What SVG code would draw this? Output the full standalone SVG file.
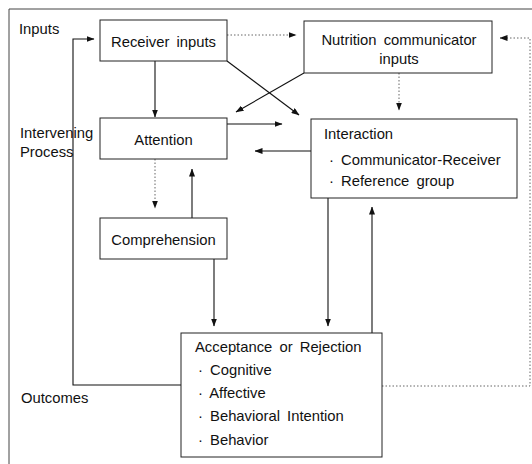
<svg xmlns="http://www.w3.org/2000/svg" width="532" height="464" viewBox="0 0 532 464">
<style>
.box{fill:#fff;stroke:#222;stroke-width:1}
.t{font-family:"Liberation Sans",Arial,sans-serif;font-size:14.8px;fill:#111;word-spacing:3px}
.c{text-anchor:middle}
.ln{fill:none;stroke:#111;stroke-width:1.1}
.dt{fill:none;stroke:#666;stroke-width:1;stroke-dasharray:1.5 2}
.fr{fill:none;stroke:#444;stroke-width:1}
</style>
<defs>
<marker id="ah" markerWidth="8" markerHeight="6" refX="7.5" refY="3" orient="auto" markerUnits="userSpaceOnUse">
<path d="M0,0 L8,3 L0,6 Z" fill="#111"/>
</marker>
</defs>
<rect width="532" height="464" fill="#fff"/>
<g id="frame">
<path class="fr" d="M9,464 V9 H532"/>
</g>
<g id="labels">
<text class="t" x="19" y="34">Inputs</text>
<text class="t" x="20" y="138">Intervening</text>
<text class="t" x="20" y="157">Process</text>
<text class="t" x="21" y="403">Outcomes</text>
</g>
<g id="connectors">
<path class="ln" d="M155,61 V117" marker-end="url(#ah)"/>
<path class="ln" d="M227,61 L299,115" marker-end="url(#ah)"/>
<path class="ln" d="M304,73 L236,112" marker-end="url(#ah)"/>
<path class="dt" d="M227,35 H296" marker-end="url(#ah)"/>
<path class="dt" d="M399,73 V110" marker-end="url(#ah)"/>
<path class="ln" d="M227,124 H282" marker-end="url(#ah)"/>
<path class="ln" d="M311,151 H255" marker-end="url(#ah)"/>
<path class="dt" d="M155,159 V208" marker-end="url(#ah)"/>
<path class="ln" d="M192,218 V169" marker-end="url(#ah)"/>
<path class="ln" d="M214,259 V326" marker-end="url(#ah)"/>
<path class="ln" d="M328,198 V326" marker-end="url(#ah)"/>
<path class="ln" d="M372,333 V207" marker-end="url(#ah)"/>
<path class="ln" d="M181,385 H73 V39 H94" stroke="#444" marker-end="url(#ah)"/>
<path class="dt" d="M382,386 H530 V38 H500" marker-end="url(#ah)"/>
</g>
<g id="receiver">
<rect class="box" x="100" y="20" width="127" height="41"/>
<text class="t c" x="163.5" y="47">Receiver inputs</text>
</g>
<g id="nutrition">
<rect class="box" x="304" y="21" width="188" height="52"/>
<text class="t c" x="399" y="45">Nutrition communicator</text>
<text class="t c" x="399" y="64">inputs</text>
</g>
<g id="attention">
<rect class="box" x="100" y="118" width="127" height="41"/>
<text class="t c" x="163.5" y="145">Attention</text>
</g>
<g id="interaction">
<rect class="box" x="311" y="119" width="206" height="79"/>
<text class="t" x="324" y="139">Interaction</text>
<text class="t" x="329" y="165">· Communicator-Receiver</text>
<text class="t" x="329" y="186">· Reference group</text>
</g>
<g id="comprehension">
<rect class="box" x="100" y="218" width="127" height="41"/>
<text class="t c" x="163.5" y="245">Comprehension</text>
</g>
<g id="acceptance">
<rect class="box" x="181" y="333" width="201" height="124"/>
<text class="t" x="195" y="352">Acceptance or Rejection</text>
<text class="t" x="198" y="375">· Cognitive</text>
<text class="t" x="198" y="398">· Affective</text>
<text class="t" x="198" y="421">· Behavioral Intention</text>
<text class="t" x="198" y="445">· Behavior</text>
</g>
</svg>
